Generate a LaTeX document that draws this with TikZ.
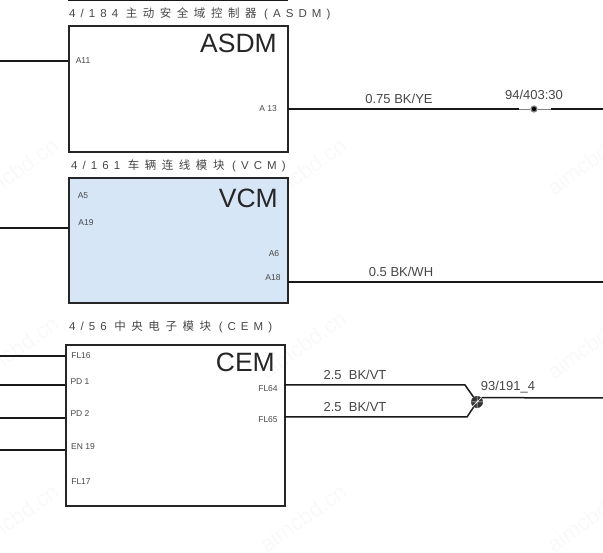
\documentclass[tikz,border=0pt]{standalone}
\usepackage{fontspec}
\setmainfont{Liberation Sans}
\newfontfamily\cjk[LetterSpace=48]{Noto Sans CJK SC}
\newfontfamily\spaced[LetterSpace=44]{Liberation Sans}
\usetikzlibrary{positioning}
\definecolor{vcmblue}{RGB}{215,230,246}
\definecolor{textgray}{RGB}{70,70,70}
\definecolor{markgray}{RGB}{249,249,249}
\newcommand{\titlegap}{\hspace{4.5pt}}

\tikzset{
  module/.style={draw=black!85, line width=1.8pt, minimum width=219pt, inner sep=0pt, anchor=north west},
  wire/.style={line width=1.5pt, black!90},
  pin/.style={font=\fontsize{8.5}{9}\selectfont, text=textgray, inner sep=0pt},
  wirelabel/.style={font=\fontsize{13}{15}\selectfont, text=textgray, inner sep=0pt},
  heading/.style={font=\fontsize{11.5}{13}\selectfont, text=textgray, inner sep=0pt, anchor=west},
  bigname/.style={font=\fontsize{26.5}{28}\selectfont, text=black!85, inner sep=0pt, anchor=east},
  watermark/.style={font=\fontsize{22}{24}\selectfont, text=markgray, rotate=36, inner sep=0pt}
}

\begin{document}
\begin{tikzpicture}[x=1pt, y=-1pt]
  \useasboundingbox (0,0) rectangle (603,553);

  % faint marks behind everything
  \foreach \mx/\my/\mn in {15/172/w1, 303/172/w2, 590/161/w3, 15/350/w4, 303/345/w5, 590/345/w6, 15/518/w7, 303/518/w8, 590/518/w9}
    \node[watermark] (\mn) at (\mx,\my) {aimcbd.cn};

  % the box left over from the block above
  \coordinate (topleft) at (68,0);
  \coordinate (topright) at (288,0);
  \draw[wire] (topleft) -- (topright);

  \node[module, minimum height=126pt] at (68,25) (ASDM) {};
  \node[module, minimum height=125pt, fill=vcmblue] at (68,177) (VCM) {};
  \node[module, minimum height=161pt] at (65,344) (CEM) {};

  \node[heading] at (69,14) (ASDMtitle) {{\spaced 4/184} \titlegap{\cjk 主动安全域控制器} \titlegap{\spaced (ASDM)}};
  \node[heading] at (71,166) (VCMtitle) {{\spaced 4/161} \titlegap{\cjk 车辆连线模块} \titlegap{\spaced (VCM)}};
  \node[heading] at (69,327) (CEMtitle) {{\spaced 4/56} \titlegap{\cjk 中央电子模块} \titlegap{\spaced (CEM)}};

  \node[bigname] at (277,43) (ASDMname) {ASDM};
  \node[bigname] at (278,198) (VCMname) {VCM};
  \node[bigname] at (275,362) (CEMname) {CEM};

  % ASDM
  \node[pin] at (83,61) (A11) {A11};
  \node[pin] at (268,109) (A13) {A 13};
  \coordinate (A11end) at (0,61);
  \coordinate (A13in) at (288,109);
  \coordinate (gapleft) at (519,109);
  \coordinate (gapright) at (551,109);
  \coordinate (A13end) at (603,109);
  \draw[wire] (A11end) -- (68,61);
  \draw[wire] (A13in) -- (gapleft);
  \draw[wire] (gapright) -- (A13end);
  \node[circle, fill=black, draw=gray, line width=1.2pt, minimum size=6pt, inner sep=0pt] at (534,109) (S94) {};
  \draw[gray, line width=.8pt] (gapleft) -- (S94);
  \draw[gray, line width=.8pt] (S94) -- (gapright);
  \node[wirelabel] at (399,99) (L075) {0.75 BK/YE};
  \node[wirelabel] at (534,95) (L94) {94/403:30};

  % VCM
  \node[pin] at (83,196) (A5) {A5};
  \node[pin] at (86,223) (A19) {A19};
  \node[pin] at (274,254) (A6) {A6};
  \node[pin] at (273,278) (A18) {A18};
  \coordinate (A19end) at (0,228);
  \coordinate (A18in) at (288,282);
  \coordinate (A18end) at (603,282);
  \draw[wire] (A19end) -- (68,228);
  \draw[wire] (A18in) -- (A18end);
  \node[wirelabel] at (401,272) (L05) {0.5 BK/WH};

  % CEM
  \node[pin] at (81,356) (FL16) {FL16};
  \node[pin] at (80,382) (PD1) {PD 1};
  \node[pin] at (80,414) (PD2) {PD 2};
  \node[pin] at (83,447) (EN19) {EN 19};
  \node[pin] at (81,482) (FL17) {FL17};
  \node[pin] at (268,389) (FL64) {FL64};
  \node[pin] at (268,420) (FL65) {FL65};
  \foreach \py/\pn in {356/a, 385/b, 418/c, 450/d} {
    \coordinate (\pn end) at (0,\py);
    \draw[wire] (\pn end) -- (65,\py);
  }
  \coordinate (bendup) at (465,385);
  \coordinate (benddown) at (467,417);
  \coordinate (S93end) at (603,398);
  \node[circle, fill=black!80, minimum size=12pt, inner sep=0pt] at (477,402) (S93) {};
  \draw[wire] (284,385) -- (bendup) -- (S93);
  \draw[wire] (284,417) -- (benddown) -- (S93);
  \draw[wire] (S93.north east) -- (S93end);
  \draw[white, line width=.5pt] (S93.north) -- (S93.south) (S93.west) -- (S93.east) (S93.south west) -- (S93.north east);
  \node[wirelabel] at (355,375) (L25a) {2.5~~BK/VT};
  \node[wirelabel] at (355,407) (L25b) {2.5~~BK/VT};
  \node[wirelabel] at (508,387) (L93) {93/191\_4};
\end{tikzpicture}
\end{document}
